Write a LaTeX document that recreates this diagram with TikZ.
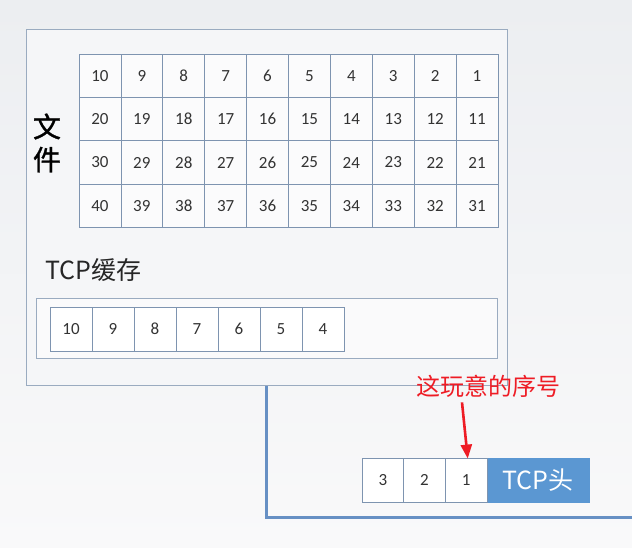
\documentclass[tikz,border=0pt]{standalone}
\usepackage{fontspec}
\setmainfont{Carlito}
\newfontfamily\cjk{Noto Sans CJK SC}
\newfontfamily\cjkb[FakeBold=1.2]{Noto Sans CJK SC}
\usetikzlibrary{arrows.meta}
\definecolor{bgtop}{HTML}{ECEEF1}
\definecolor{bgbot}{HTML}{F9F9FA}
\definecolor{boxfill}{HTML}{F5F6F8}
\definecolor{boxline}{HTML}{9AABC0}
\definecolor{cellline}{HTML}{7E94B0}
\definecolor{wireblue}{HTML}{6790C4}
\definecolor{headblue}{HTML}{5B97D2}
\definecolor{notered}{HTML}{EE1C25}
\definecolor{numgray}{HTML}{333333}
\begin{document}
\begin{tikzpicture}[x=1pt,y=-1pt,
  hostbox/.style={draw=boxline, fill=boxfill, line width=1pt, inner sep=0pt, anchor=north west},
  cell/.style={draw=cellline, fill=white!60!boxfill, line width=0.8pt, inner sep=0pt,
    minimum width=41.9pt, minimum height=43.4pt, font=\fontsize{17}{20}\selectfont, text=numgray},
  bufcell/.style={cell, fill=white, minimum width=42pt, minimum height=44pt},
  pktcell/.style={cell, fill=white, minimum width=41.7pt, minimum height=44pt},
  headcell/.style={fill=headblue, draw=headblue, inner sep=0pt, minimum width=101pt, minimum height=44pt,
    text=white, font=\cjk\fontsize{25}{30}\selectfont},
  wire/.style={draw=wireblue, line width=3pt},
  pointer/.style={draw=notered, line width=2.6pt, -{Triangle[length=14pt,width=11pt]}}
]
\fill[top color=bgtop, bottom color=bgbot] (0,0) rectangle (632,547);
\useasboundingbox (0,0) rectangle (632,547);

% host box
\node[hostbox, minimum width=481pt, minimum height=356pt] (host) at (26,29) {};

% file grid
\foreach \r in {0,...,3}{
  \foreach \c in {0,...,9}{
    \pgfmathtruncatemacro\n{10*(\r+1)-\c}
    \node[cell] (f-\r-\c) at ({79+41.9*(\c+0.5)},{54+43.4*(\r+0.5)}) {\n};
  }
}

\node[font=\cjkb\fontsize{28}{33}\selectfont, align=center, inner sep=0pt] (wj) at (47,143) {文\\件};

\node[anchor=west, inner sep=0pt, font=\cjk\fontsize{25}{30}\selectfont, text=black!85] (tcplabel) at (45,270) {TCP缓存};

% TCP buffer
\node[draw=boxline, fill=white!50!boxfill, line width=1pt, minimum width=461pt, minimum height=60pt, inner sep=0pt] (buf) at (266.5,328) {};
\foreach \v [count=\i from 0] in {10,9,8,7,6,5,4}{
  \node[bufcell] (b-\i) at ({50+42*(\i+0.5)},329) {\v};
}

% wire
\coordinate (w1) at (266,517);
\coordinate (w2) at (632,517);
\draw[wire] (host.south -| w1) -- (w1) -- (w2);

% packet
\node[pktcell] (p3) at ({362+41.7*0.5},480) {3};
\node[pktcell] (p2) at ({362+41.7*1.5},480) {2};
\node[pktcell] (p1) at ({362+41.7*2.5},480) {1};
\node[headcell, anchor=west] (head) at (p1.east) {TCP头};

% note
\node[text=notered, inner sep=0pt, font=\cjk\fontsize{24}{28}\selectfont] (note) at (488,386) {这玩意的序号};
\draw[pointer] ([xshift=-26pt,yshift=-5pt]note.south) -- ([xshift=1.5pt,yshift=-1pt]p1.north);
\end{tikzpicture}
\end{document}
